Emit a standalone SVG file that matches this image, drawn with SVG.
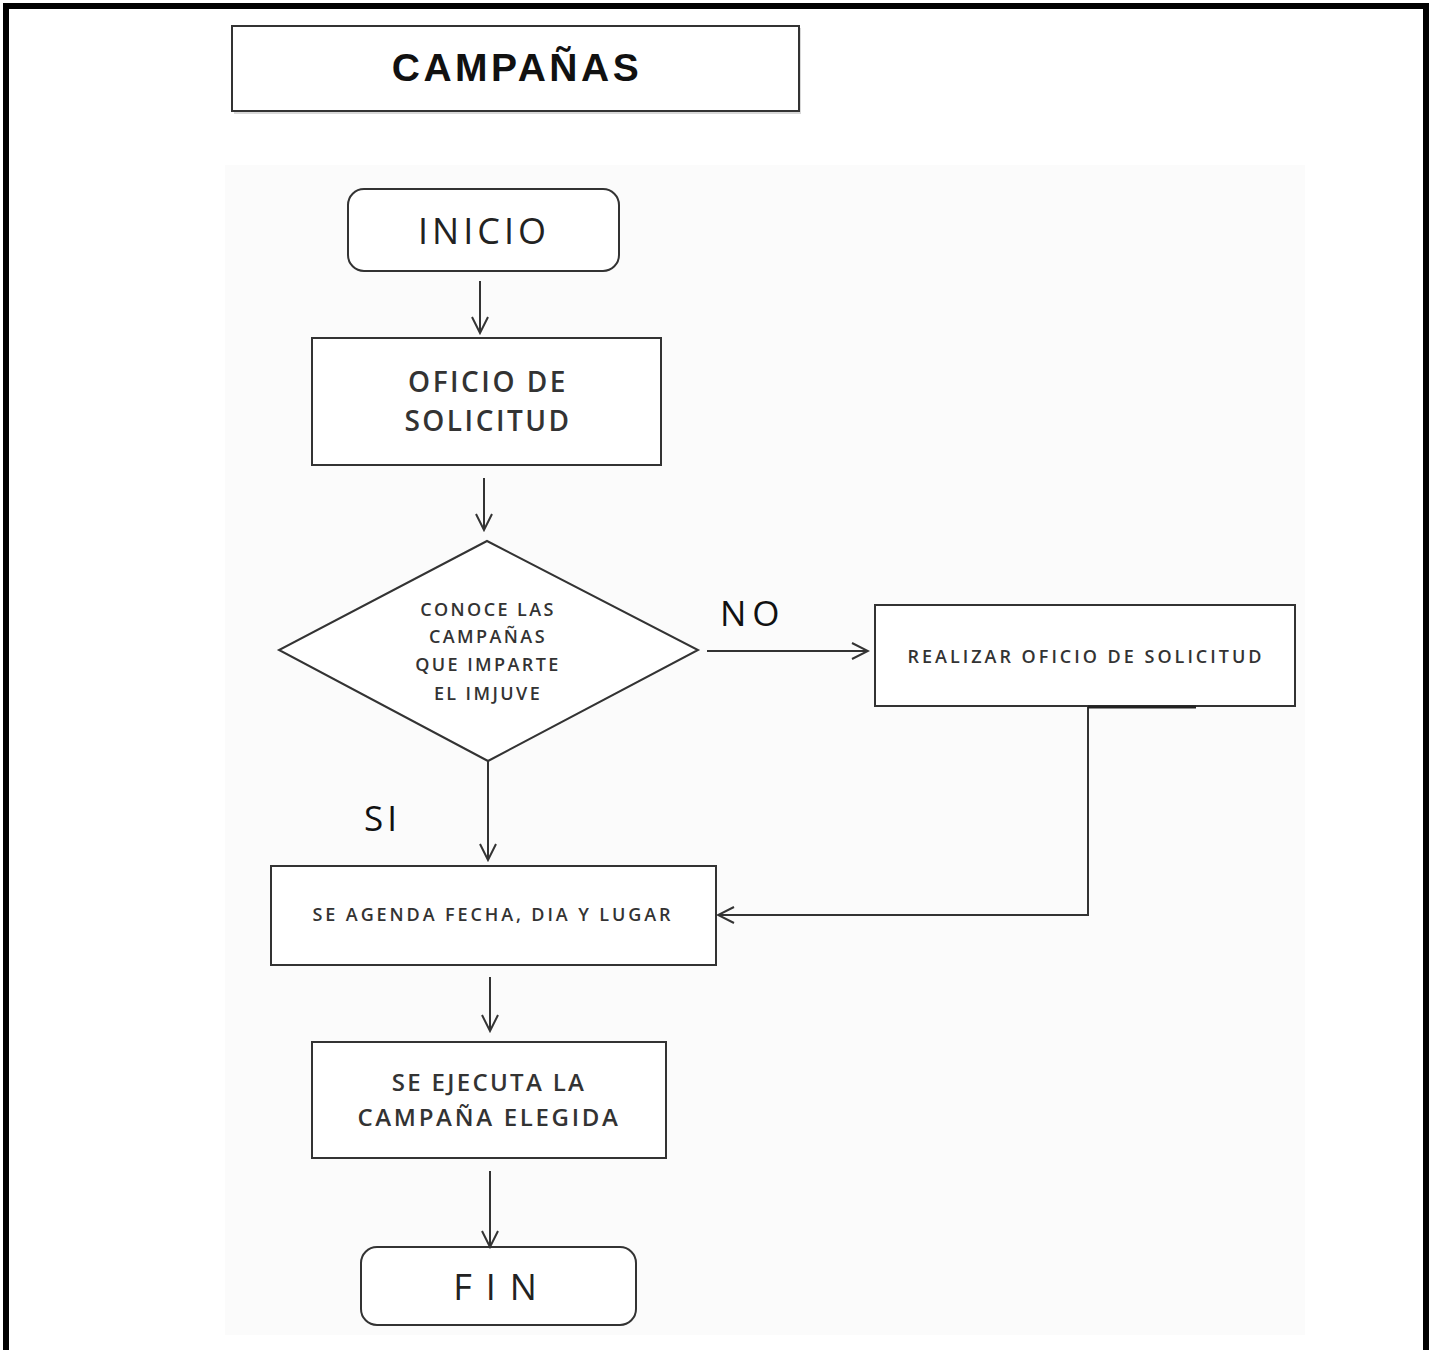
<svg xmlns="http://www.w3.org/2000/svg" width="1429" height="1350" viewBox="0 0 1429 1350">
<style>
.box{fill:#fff;stroke:#333;stroke-width:2}
.shadow{fill:#d8d8d8}
.t{font-family:"Open Sans","Liberation Sans",sans-serif;font-weight:600;fill:#333;text-anchor:middle}
.big{font-family:"Open Sans","Liberation Sans",sans-serif;font-weight:400;fill:#222;text-anchor:middle}
.lbl{font-family:"Open Sans","Liberation Sans",sans-serif;fill:#111}
.c{fill:none;stroke:#333;stroke-width:2}
</style>
<defs>
<marker id="ah" viewBox="0 0 20 20" refX="18" refY="10" markerWidth="20" markerHeight="20" markerUnits="userSpaceOnUse" orient="auto">
<path d="M2,2 L18,10 L2,18" fill="none" stroke="#333" stroke-width="2"/>
</marker>
</defs>
<rect width="1429" height="1350" fill="#fff"/>
<rect x="225" y="165" width="1080" height="1170" fill="#fbfbfb"/>
<path d="M6,1350 V6 H1426 V1350" fill="none" stroke="#000" stroke-width="6"/>
<g id="title">
<rect class="shadow" x="234" y="28" width="567" height="86"/>
<rect class="box" x="232" y="26" width="567" height="85"/>
<text x="517" y="81" font-family="'Liberation Sans',Arial,sans-serif" font-weight="bold" font-size="39" text-anchor="middle" fill="#111" letter-spacing="3.5">CAMPAÑAS</text>
</g>
<g id="inicio">
<rect class="box" x="348" y="189" width="271" height="82" rx="16"/>
<text class="big" x="484" y="244" font-size="36" letter-spacing="4">INICIO</text>
</g>
<g id="oficio">
<rect class="box" x="312" y="338" width="349" height="127"/>
<text class="t" x="488" y="392" font-size="28" letter-spacing="2.5">OFICIO DE</text>
<text class="t" x="488" y="431" font-size="28" letter-spacing="2.5">SOLICITUD</text>
</g>
<g id="decision">
<polygon class="box" points="487,541 698,650 488,761 279,650"/>
<text class="t" x="488" y="616" font-size="18" letter-spacing="2.4">CONOCE LAS</text>
<text class="t" x="488" y="643" font-size="18" letter-spacing="2.4">CAMPAÑAS</text>
<text class="t" x="488" y="671" font-size="18" letter-spacing="2.4">QUE IMPARTE</text>
<text class="t" x="488" y="700" font-size="18" letter-spacing="2.4">EL IMJUVE</text>
</g>
<g id="realizar">
<rect class="box" x="875" y="605" width="420" height="101"/>
<text class="t" x="1086" y="663" font-size="18" letter-spacing="3">REALIZAR OFICIO DE  SOLICITUD</text>
</g>
<g id="agenda">
<rect class="box" x="271" y="866" width="445" height="99"/>
<text class="t" x="493" y="921" font-size="18" letter-spacing="2.9">SE AGENDA  FECHA,  DIA  Y  LUGAR</text>
</g>
<g id="ejecuta">
<rect class="box" x="312" y="1042" width="354" height="116"/>
<text class="t" x="489" y="1091" font-size="24" letter-spacing="2.3">SE EJECUTA LA</text>
<text class="t" x="489" y="1126" font-size="24" letter-spacing="2.7">CAMPAÑA ELEGIDA</text>
</g>
<g id="fin">
<rect class="box" x="361" y="1247" width="275" height="78" rx="16"/>
<text class="big" x="502" y="1300" font-size="36" letter-spacing="14">FIN</text>
</g>
<g id="connectors">
<line class="c" x1="480" y1="281" x2="480" y2="333" marker-end="url(#ah)"/>
<line class="c" x1="484" y1="478" x2="484" y2="530" marker-end="url(#ah)"/>
<line class="c" x1="707" y1="651" x2="868" y2="651" marker-end="url(#ah)"/>
<line class="c" x1="488" y1="761" x2="488" y2="860" marker-end="url(#ah)"/>
<polyline class="c" points="1088,706 1088,915 718,915" marker-end="url(#ah)"/>
<line x1="1088" y1="707" x2="1196" y2="707" stroke="#222" stroke-width="3"/>
<line class="c" x1="490" y1="977" x2="490" y2="1031" marker-end="url(#ah)"/>
<line class="c" x1="490" y1="1171" x2="490" y2="1247" marker-end="url(#ah)"/>
</g>
<g id="labels">
<text class="lbl" x="720" y="626" font-size="35" letter-spacing="6">NO</text>
<text class="lbl" x="364" y="831" font-size="35" letter-spacing="4">SI</text>
</g>
</svg>
